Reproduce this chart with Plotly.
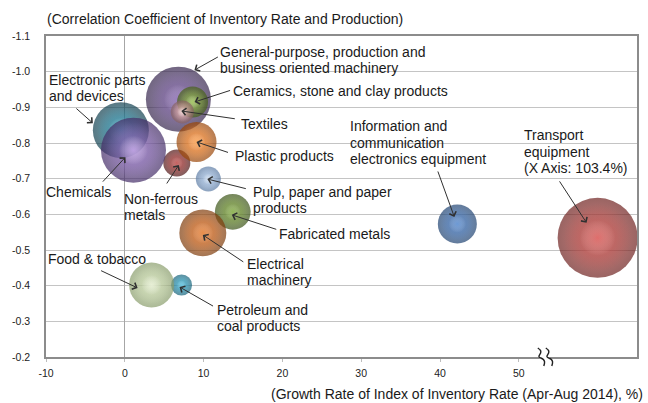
import plotly.graph_objects as go

# ---------------- data ----------------
industries = [
    "Electronic parts and devices", "Non-ferrous metals", "Chemicals",
    "General-purpose, production and business oriented machinery",
    "Plastic products", "Ceramics, stone and clay products", "Textiles",
    "Pulp, paper and paper products", "Fabricated metals", "Electrical machinery",
    "Petroleum and coal products", "Food & tobacco",
    "Information and communication electronics equipment", "Transport equipment",
]
# growth rate of inventory rate index (%), as plotted (transport 103.4% drawn past the axis break)
growth_rate = [-0.5, 6.6, 1.1, 6.8, 9.1, 8.6, 7.3, 10.6, 13.7, 9.9, 7.2, 3.4, 42.2, 60.0]
# correlation coefficient of inventory rate and production
correlation = [-0.836, -0.744, -0.780, -0.923, -0.803, -0.915, -0.887,
               -0.699, -0.607, -0.548, -0.402, -0.402, -0.573, -0.534]
# bubble size (relative weight)
weight = [49, 11.4, 66, 66, 25, 15, 8.3, 9.8, 20, 34.5, 6.9, 31.6, 23.8, 100]

label_lines = [
    ["Electronic parts", "and devices"],
    ["Non-ferrous", "metals"],
    ["Chemicals"],
    ["General-purpose, production and", "business oriented machinery"],
    ["Plastic products"],
    ["Ceramics, stone and clay products"],
    ["Textiles"],
    ["Pulp, paper and paper", "products"],
    ["Fabricated metals"],
    ["Electrical", "machinery"],
    ["Petroleum and", "coal products"],
    ["Food & tobacco"],
    ["Information and", "communication", "electronics equipment"],
    ["Transport", "equipment", "(X Axis: 103.4%)"],
]

y_tick_vals = [-1.1, -1.0, -0.9, -0.8, -0.7, -0.6, -0.5, -0.4, -0.3, -0.2]
y_tick_text = ["-1.1", "-1.0", "-0.9", "-0.8", "-0.7", "-0.6", "-0.5", "-0.4", "-0.3", "-0.2"]
x_tick_vals = [-10, 0, 10, 20, 30, 40, 50]
x_tick_text = ["-10", "0", "10", "20", "30", "40", "50"]
X_RANGE = [-10, 65]
AXIS_BREAK_AT = 53.3

# ---------------- styles ----------------
edge_col = ["#123f4e", "#4e1414", "#432c66", "#35254c", "#984406", "#465f18", "#866060",
            "#5a7aa3", "#3a5216", "#7c3a0a", "#136078", "#889c6a", "#1f4270", "#6e2220"]
mid_col = ["#2f90ab", "#ad4240", "#9070bd", "#775a9e", "#f28a36", "#8fb44a", "#e0b2b1",
           "#a8c1e0", "#779a3a", "#d87028", "#40aac8", "#cad9ae", "#4878ba", "#c44c48"]
hi_col = ["rgba(110,215,240,0.7)", "rgba(220,110,110,0.65)", "rgba(225,195,255,0.8)",
          "rgba(180,150,220,0.65)", "rgba(255,195,130,0.7)", "rgba(195,228,130,0.7)",
          "rgba(255,232,232,0.85)", "rgba(238,245,255,0.85)", "rgba(160,205,100,0.65)",
          "rgba(248,160,90,0.65)", "rgba(140,225,250,0.7)", "rgba(248,252,236,0.85)",
          "rgba(130,178,238,0.65)", "rgba(248,130,130,0.65)"]


def transparent(hex_col):
    h = hex_col.lstrip("#")
    return "rgba(%d,%d,%d,0)" % (int(h[0:2], 16), int(h[2:4], 16), int(h[4:6], 16))


# label block offsets (px): left edge / vertical middle relative to bubble centre
text_off = [(-71, -42), (-52, 44), (-86, 42), (43, -39), (39, 14), (41, -11), (60, 12),
            (46, 21), (47, 22), (45, 39), (36, 33), (-103, -26), (-106, -81), (-73, -86)]
# arrow head offset from bubble centre, and tail offset from head (px)
head_off = [(-28, -7), (2, 2), (-8, 7), (16, -29), (0, 0), (2, 0), (-1, -1),
            (-1, 0), (-1, 3), (0, 2), (-2, 2), (-14, 3), (-3, -7), (-11, -15)]
tail_off = [(-18, -16), (-13, 20), (-24, 26), (25, -14), (33, 11), (37, -12), (55, 8),
            (40, 10), (46, 15), (42, 28), (35, 20), (-38, -18), (-17, -47), (-28, -43)]

FONT = "Liberation Sans, Arial, sans-serif"
TXT = "#1a1a1a"
MAX_D = 80
sizeref = 2.0 * max(weight) / MAX_D ** 2

fig = go.Figure()
for i in range(len(industries)):
    common = dict(x=[growth_rate[i]], y=[correlation[i]], mode="markers",
                  name=industries[i], hoverinfo="skip", showlegend=False)
    # rim shading
    fig.add_trace(go.Scatter(**common, marker=dict(
        size=[weight[i]], sizemode="area", sizeref=sizeref, color=edge_col[i],
        line=dict(width=0), gradient=dict(type="radial", color=mid_col[i]))))
    # body colour
    fig.add_trace(go.Scatter(**common, marker=dict(
        size=[weight[i]], sizemode="area", sizeref=sizeref / 0.72,
        color=transparent(mid_col[i]), line=dict(width=0),
        gradient=dict(type="radial", color=mid_col[i]))))
    # highlight
    fig.add_trace(go.Scatter(**common, marker=dict(
        size=[weight[i]], sizemode="area", sizeref=sizeref / 0.2,
        color="rgba(255,255,255,0)", line=dict(width=0),
        gradient=dict(type="radial", color=hi_col[i]))))

LINE_H = 16.5
ann = []
for i in range(len(industries)):
    dx, dy = text_off[i]
    n = len(label_lines[i])
    for k, line in enumerate(label_lines[i]):
        yy = dy + (k - (n - 1) / 2) * LINE_H
        ann.append(dict(x=growth_rate[i], y=correlation[i], xref="x", yref="y",
                        text=line, showarrow=False, xanchor="left", yanchor="middle",
                        xshift=dx - 3, yshift=-yy, font=dict(family=FONT, size=14, color=TXT)))
    hx, hy = head_off[i]
    tx, ty = tail_off[i]
    ann.append(dict(x=growth_rate[i], y=correlation[i], xref="x", yref="y", text="",
                    showarrow=True, ax=tx, ay=ty, xshift=hx, yshift=-hy,
                    arrowhead=4, arrowsize=1.4, arrowwidth=1, arrowcolor="#303030"))

ann.append(dict(x=0, y=1, xref="paper", yref="paper", xanchor="left", yanchor="middle",
                xshift=-1, yshift=17, showarrow=False,
                text="(Correlation Coefficient of Inventory Rate and Production)",
                font=dict(family=FONT, size=14, color=TXT)))
ann.append(dict(x=0, y=0, xref="paper", yref="paper", xanchor="left", yanchor="middle",
                xshift=223, yshift=-37, showarrow=False,
                text="(Growth Rate of Index of Inventory Rate (Apr-Aug 2014), %)",
                font=dict(family=FONT, size=14, color=TXT)))

bx = (AXIS_BREAK_AT - X_RANGE[0]) / (X_RANGE[1] - X_RANGE[0])
shapes = [
    dict(type="path", xref="paper", yref="paper", xsizemode="pixel", ysizemode="pixel",
         xanchor=bx, yanchor=0, path="M -5,-2.5 H 5 V 2.5 H -5 Z",
         fillcolor="white", line=dict(width=0), layer="above"),
]
for ox in (-4, 4):
    shapes.append(dict(type="path", xref="paper", yref="paper", xsizemode="pixel",
                       ysizemode="pixel", xanchor=bx, yanchor=0,
                       path=f"M {ox-3},9 C {ox+5},4 {ox-6},1 {ox},-1 C {ox+5},-3 {ox+4},-6 {ox+3},-9",
                       line=dict(color="#222", width=1.4), layer="above"))

fig.update_layout(
    width=648, height=403, margin=dict(l=46, r=9, t=36, b=46),
    paper_bgcolor="white", plot_bgcolor="white",
    annotations=ann, shapes=shapes,
    xaxis=dict(range=X_RANGE, tickvals=x_tick_vals, ticktext=x_tick_text,
               showgrid=False, zeroline=True, zerolinecolor="#a6a6a6", zerolinewidth=1.3,
               showline=True, linecolor="#8c8c8c", linewidth=1.5, mirror=True,
               ticks="outside", ticklen=3, tickcolor="#bdbdbd",
               tickfont=dict(family=FONT, size=10.5, color="#222"), ticklabelstandoff=3),
    yaxis=dict(range=[-0.2, -1.1], tickvals=y_tick_vals, ticktext=y_tick_text,
               showgrid=True, gridcolor="#c4c4c4", gridwidth=1.3, zeroline=False,
               showline=True, linecolor="#8c8c8c", linewidth=1.5, mirror=True,
               ticks="", tickfont=dict(family=FONT, size=10.5, color="#222"),
               ticklabelstandoff=12),
)

fig.write_html("out.html", config={"displayModeBar": False},
               post_script="document.body.style.margin='0';")
